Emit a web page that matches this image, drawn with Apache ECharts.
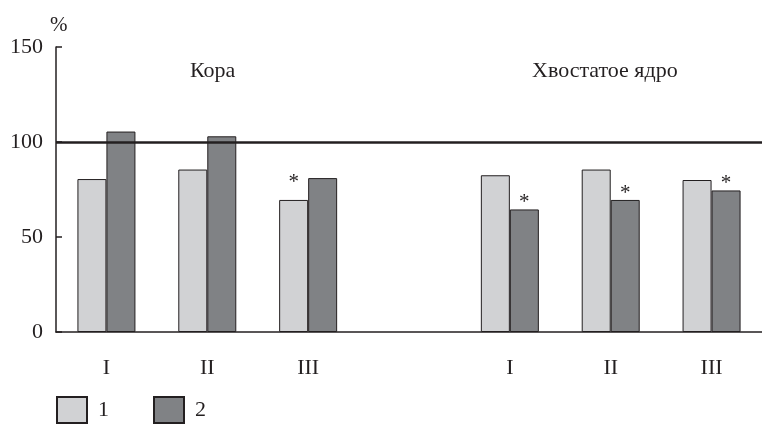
<!DOCTYPE html>
<html>
<head>
<meta charset="utf-8">
<script src="https://cdn.jsdelivr.net/npm/echarts@6/dist/echarts.min.js"></script>
<style>
html, body { margin: 0; padding: 0; background: #fff; }
#chart { width: 762px; height: 424px; }
</style>
</head>
<body>
<div id="chart"></div>
<script>
// categories: two groups (Кора, Хвостатое ядро) separated by an empty slot
var categories = ['I', 'II', 'III', '', 'I', 'II', 'III'];
var series1 = [80.5, 85.5, 69.5, null, 82.5, 85.5, 80];
var series2 = [105.5, 103, 81, null, 64.5, 69.5, 74.5];
// indices of bars marked with an asterisk
var star1 = [2];
var star2 = [4, 5, 6];
var groupTitles = ['Кора', 'Хвостатое ядро'];
var yTicks = [0, 50, 100, 150];
var refLevel = 100;

var font = '"Liberation Serif", "DejaVu Serif", serif';
var ink = '#231f20';

function withStars(values, stars, dist) {
	return values.map(function (v, i) {
		if (v === null) return '-';
		if (stars.indexOf(i) >= 0) {
			return { value: v, label: { show: true, distance: dist } };
		}
		return v;
	});
}

var starLabel = {
	show: false,
	position: 'top',
	formatter: '*',
	fontFamily: font,
	fontSize: 21,
	color: ink
};

var chart = echarts.init(document.getElementById('chart'));
chart.setOption({
	backgroundColor: '#fff',
	animation: false,
	grid: { left: 56, top: 47, width: 712, bottom: 92, containLabel: false },
	legend: {
		left: 56,
		top: 396,
		padding: 0,
		itemWidth: 30,
		itemHeight: 26,
		itemGap: 44,
		icon: 'rect',
		textStyle: { fontFamily: font, fontSize: 22, color: ink, padding: [0, 0, 0, 6] },
		data: ['1', '2']
	},
	graphic: [
		{ type: 'text', left: 190, top: 60, style: { text: groupTitles[0], font: '22px ' + font, fill: ink } },
		{ type: 'text', left: 532, top: 60, style: { text: groupTitles[1], font: '22px ' + font, fill: ink } }
	],
	xAxis: {
		type: 'category',
		data: categories,
		axisLine: { lineStyle: { color: ink, width: 1.5 } },
		axisTick: { show: false },
		axisLabel: { fontFamily: font, fontSize: 22, color: ink, margin: 25 }
	},
	yAxis: {
		type: 'value',
		min: yTicks[0],
		max: yTicks[yTicks.length - 1],
		interval: 50,
		name: '%',
		nameLocation: 'end',
		nameGap: 11,
		nameTextStyle: { fontFamily: font, fontSize: 21, color: ink, align: 'left', padding: [0, 0, 0, -6] },
		splitLine: { show: false },
		axisLine: { show: true, lineStyle: { color: ink, width: 1.5 } },
		axisTick: { show: true, inside: true, length: 6, lineStyle: { color: ink, width: 1.5 } },
		axisLabel: { fontFamily: font, fontSize: 22, color: ink, margin: 13 }
	},
	series: [
		{
			name: '1',
			type: 'bar',
			barWidth: 29,
			barGap: '0%',
			data: withStars(series1, star1, 7),
			itemStyle: { color: '#d1d2d4', borderColor: ink, borderWidth: 1 },
			label: starLabel,
			markLine: {
				silent: true,
				symbol: 'none',
				label: { show: false },
				lineStyle: { color: ink, width: 2.5, type: 'solid' },
				data: [{ yAxis: refLevel }]
			}
		},
		{
			name: '2',
			type: 'bar',
			barWidth: 29,
			barGap: '0%',
			data: withStars(series2, star2, -4),
			itemStyle: { color: '#808285', borderColor: ink, borderWidth: 1 },
			label: starLabel
		}
	]
});
</script>
</body>
</html>
